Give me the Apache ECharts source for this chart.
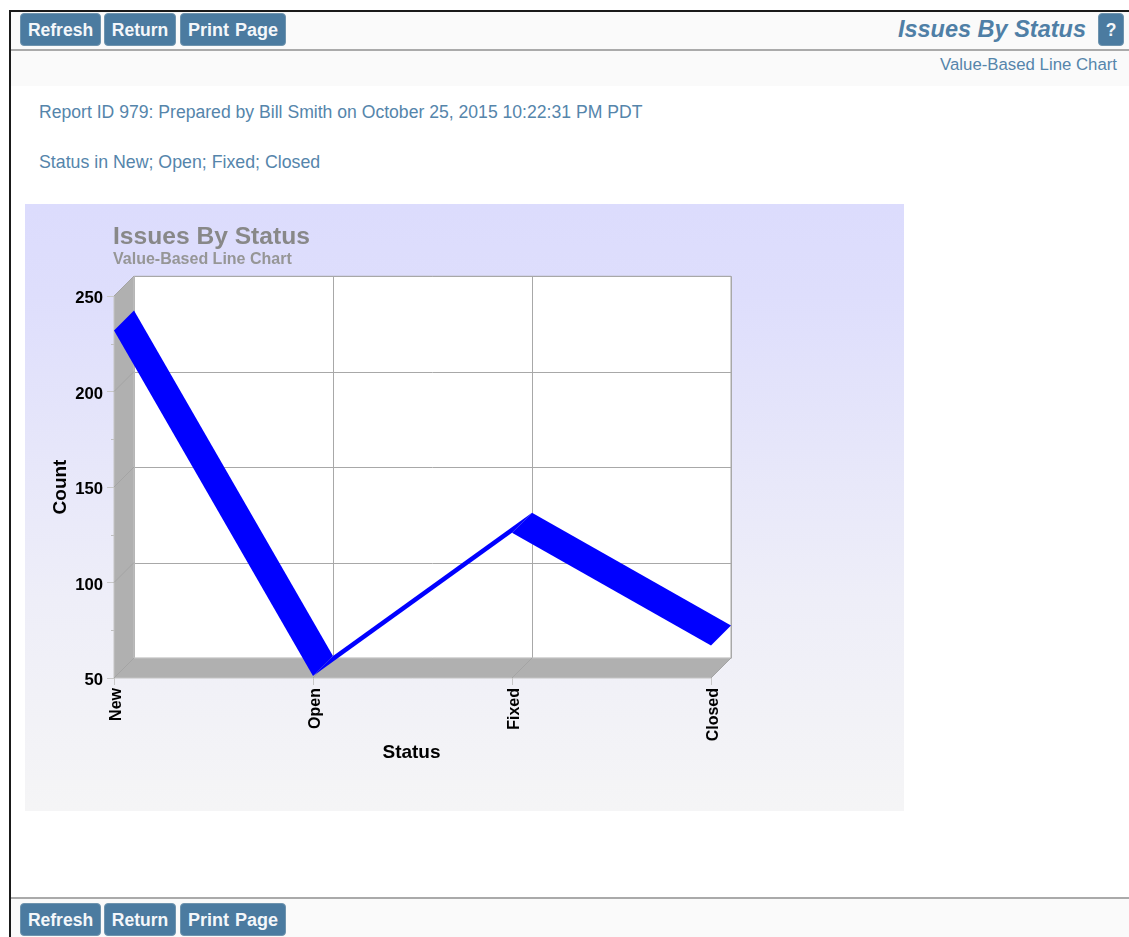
<!DOCTYPE html>
<html>
<head>
<meta charset="utf-8">
<script src="https://cdn.jsdelivr.net/npm/echarts@6/dist/echarts.min.js"></script>
<style>
html,body{margin:0;padding:0;background:#fff;overflow:hidden;width:1129px;height:937px;font-family:"Liberation Sans",Arial,sans-serif;}
.abs{position:absolute;white-space:nowrap;}
.btn{position:absolute;box-sizing:border-box;height:33px;line-height:33px;background:#4b7ba0;border:1px solid #6f94ae;border-radius:4px;color:#f4f7fa;font-weight:bold;font-size:17.5px;text-align:center;}
.wide{font-size:18px;word-spacing:1px;}
.txt{position:absolute;white-space:nowrap;color:#5585ab;font-size:17.6px;}
#chart{position:absolute;left:25px;top:204px;width:879px;height:607px;}
</style>
</head>
<body>
<div class="abs" style="left:9px;top:10px;width:1120px;height:2px;background:#1a1a1a"></div>
<div class="abs" style="left:9px;top:10px;width:2px;height:927px;background:#1a1a1a"></div>
<div class="abs" style="left:11px;top:12px;width:1118px;height:37px;background:#fafafa"></div>
<div class="abs" style="left:11px;top:49px;width:1118px;height:2px;background:#aaa"></div>
<div class="abs" style="left:11px;top:51px;width:1118px;height:35px;background:#fafafa"></div>
<div class="abs" style="left:11px;top:897px;width:1118px;height:2px;background:#aaa"></div>
<div class="abs" style="left:11px;top:899px;width:1118px;height:38px;background:#fafafa"></div>

<div class="btn" style="left:20px;top:13px;width:81px">Refresh</div>
<div class="btn" style="left:104px;top:13px;width:72px">Return</div>
<div class="btn wide" style="left:180px;top:13px;width:106px">Print Page</div>
<div class="btn" style="left:1098px;top:13px;width:26px">?</div>
<div class="abs" style="right:43px;top:15px;line-height:28px;color:#4f7fa6;font-size:23.5px;font-weight:bold;font-style:italic">Issues By Status</div>
<div class="txt" style="right:12px;top:54px;line-height:21px;font-size:16.8px">Value-Based Line Chart</div>
<div class="txt" style="left:39px;top:101px;line-height:22px">Report ID 979: Prepared by Bill Smith on October 25, 2015 10:22:31 PM PDT</div>
<div class="txt" style="left:39px;top:151px;line-height:22px;font-size:17.75px">Status in New; Open; Fixed; Closed</div>
<div id="chart"></div>
<div class="btn" style="left:20px;top:903px;width:81px">Refresh</div>
<div class="btn" style="left:104px;top:903px;width:72px">Return</div>
<div class="btn wide" style="left:180px;top:903px;width:106px">Print Page</div>

<script>
const statusCategories = ['New', 'Open', 'Fixed', 'Closed'];
const issueCounts = [232, 51, 126, 67];
const yMin = 50;
const yMax = 250;
const yStep = 50;
const yTicks = [50, 100, 150, 200, 250];
const chartTitle = 'Issues By Status';
const chartSubtitle = 'Value-Based Line Chart';
const xName = 'Status';
const yName = 'Count';

const depthX = 20, depthY = -20;
const wallColor = '#b0b0b0';
const font = '"Liberation Sans", Arial, sans-serif';

const chart = echarts.init(document.getElementById('chart'), null, {renderer: 'canvas'});

function back(p) { return [p[0] + depthX, p[1] + depthY]; }

// Left wall, floor and the depth lines, all placed from the front axes' scales.
function renderBox(params, api) {
  const last = statusCategories.length - 1;
  const ll = api.coord([0, yMin]), ul = api.coord([0, yMax]), lr = api.coord([last, yMin]);
  const children = [
    {type: 'polygon', shape: {points: [ll, ul, back(ul), back(ll)]}, style: {fill: wallColor, stroke: '#c4c4c4', lineWidth: 1}},
    {type: 'polygon', shape: {points: [ll, back(ll), back(lr), lr]}, style: {fill: wallColor, stroke: '#c4c4c4', lineWidth: 1}}
  ];
  yTicks.forEach(function (t) {
    const p = api.coord([0, t]);
    children.push({type: 'line', shape: {x1: p[0], y1: p[1], x2: p[0] + depthX, y2: p[1] + depthY}, style: {stroke: '#a4a4a4', lineWidth: 1}});
  });
  statusCategories.forEach(function (c, i) {
    const p = api.coord([i, yMin]);
    children.push({type: 'line', shape: {x1: p[0], y1: p[1], x2: p[0] + depthX, y2: p[1] + depthY}, style: {stroke: '#a4a4a4', lineWidth: 1}});
  });
  return {type: 'group', children: children};
}

// One ribbon panel of the 3D line between two neighbouring categories.
function renderRibbon(params, api) {
  const a = api.coord([api.value(0), api.value(1)]);
  const b = api.coord([api.value(2), api.value(3)]);
  return {type: 'polygon', shape: {points: [a, back(a), back(b), b]}, style: {fill: '#0000ff'}};
}

const ribbonData = issueCounts.slice(0, -1).map(function (v, i) { return [i, v, i + 1, issueCounts[i + 1]]; });

chart.setOption({
  animation: false,
  backgroundColor: new echarts.graphic.LinearGradient(0, 0, 0, 1, [
    {offset: 0, color: '#dcdcfd'},
    {offset: 0.15, color: '#dedefc'},
    {offset: 0.65, color: '#eeeef8'},
    {offset: 1, color: '#f5f5f6'}
  ]),
  textStyle: {fontFamily: font},
  title: {
    text: chartTitle, subtext: chartSubtitle, left: 83, top: 16, itemGap: 2,
    textStyle: {fontFamily: font, fontSize: 24.6, fontWeight: 'bold', color: '#888888'},
    subtextStyle: {fontFamily: font, fontSize: 16, fontWeight: 'bold', color: '#969696'}
  },
  grid: [
    {left: 89, top: 92, width: 597, height: 382, show: false},
    {left: 109, top: 72.3, width: 597, height: 382, show: true, backgroundColor: '#ffffff', borderColor: '#a8a8a8', borderWidth: 1}
  ],
  xAxis: [
    {
      gridIndex: 0, type: 'category', data: statusCategories, boundaryGap: false,
      name: xName, nameLocation: 'middle', nameGap: 65, nameMoveOverlap: false,
      nameTextStyle: {fontFamily: font, fontSize: 19, fontWeight: 'bold', color: '#000', padding: [0, 2, 0, 0]},
      axisLine: {show: false},
      axisTick: {show: true, length: 7, lineStyle: {color: '#c8c8c8'}},
      axisLabel: {rotate: 90, margin: 10, verticalAlign: 'top', lineHeight: 6, fontFamily: font, fontSize: 16, fontWeight: 'bold', color: '#000', interval: 0, hideOverlap: false},
      splitLine: {show: false}
    },
    {
      gridIndex: 1, type: 'category', data: statusCategories, boundaryGap: false,
      axisLine: {show: false}, axisTick: {show: false}, axisLabel: {show: false},
      splitLine: {show: true, lineStyle: {color: '#a8a8a8', width: 1}}
    }
  ],
  yAxis: [
    {
      gridIndex: 0, type: 'value', min: yMin, max: yMax, interval: yStep,
      name: yName, nameLocation: 'middle', nameGap: 44, nameRotate: 90, nameMoveOverlap: false,
      nameTextStyle: {fontFamily: font, fontSize: 19, fontWeight: 'bold', color: '#000'},
      axisLine: {show: false},
      axisTick: {show: true, length: 7, lineStyle: {color: '#c8c8c8'}},
      minorTick: {show: true, splitNumber: 2, length: 3, lineStyle: {color: '#c0c0c0'}},
      axisLabel: {margin: 11, verticalAlign: 'top', lineHeight: 5, fontFamily: font, fontSize: 16.7, fontWeight: 'bold', color: '#000'},
      splitLine: {show: false}
    },
    {
      gridIndex: 1, type: 'value', min: yMin, max: yMax, interval: yStep,
      axisLine: {show: false}, axisTick: {show: false}, axisLabel: {show: false},
      splitLine: {show: true, lineStyle: {color: '#a8a8a8', width: 1}}
    }
  ],
  series: [
    {type: 'custom', xAxisIndex: 0, yAxisIndex: 0, coordinateSystem: 'cartesian2d', clip: false, silent: true, z: 3, data: [[0, yMin]], renderItem: renderBox},
    {type: 'custom', xAxisIndex: 0, yAxisIndex: 0, coordinateSystem: 'cartesian2d', clip: false, silent: true, z: 5, data: ribbonData,
     encode: {x: [0, 2], y: [1, 3]}, renderItem: renderRibbon}
  ]
});
</script>
</body>
</html>
